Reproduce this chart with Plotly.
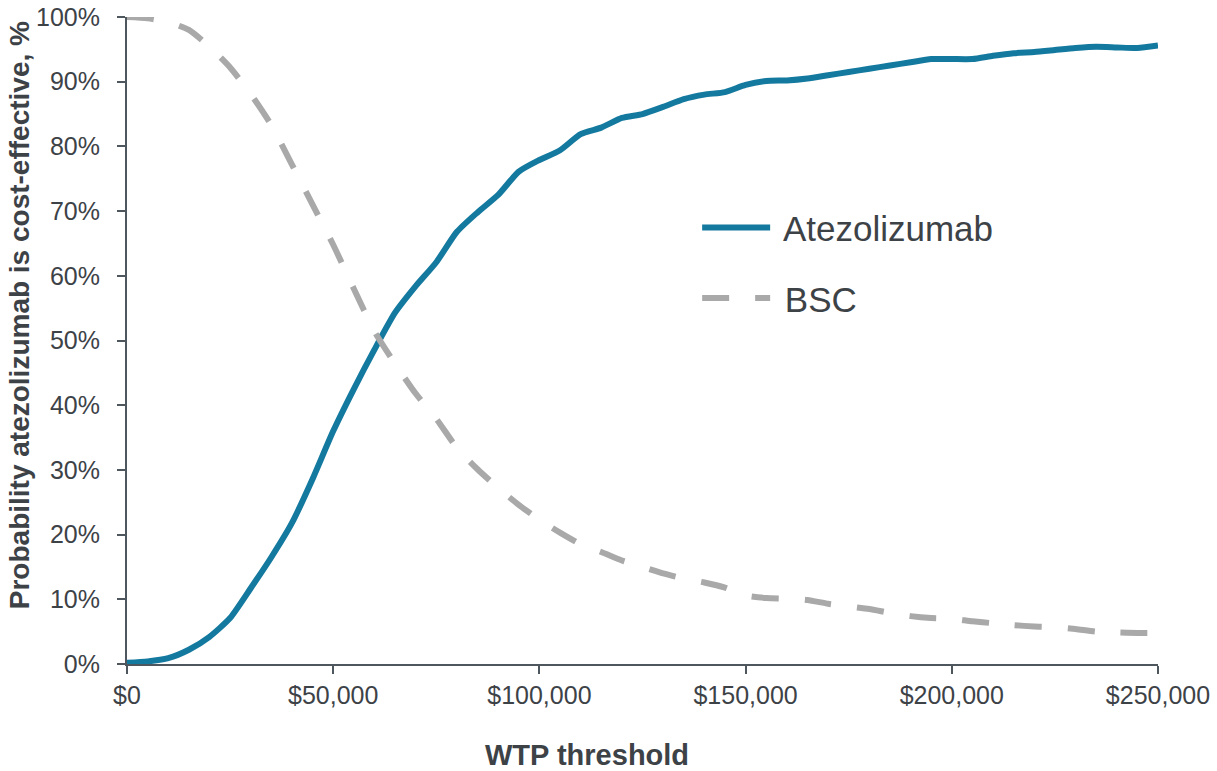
import plotly.graph_objects as go

wtp = [0, 5000, 10000, 15000, 20000, 25000, 30000, 35000, 40000, 45000,
       50000, 55000, 60000, 65000, 70000, 75000, 80000, 85000, 90000, 95000,
       100000, 105000, 110000, 115000, 120000, 125000, 130000, 135000, 140000, 145000,
       150000, 155000, 160000, 165000, 170000, 175000, 180000, 185000, 190000, 195000,
       200000, 205000, 210000, 215000, 220000, 225000, 230000, 235000, 240000, 245000,
       250000]

atezolizumab = [0.2, 0.4, 0.9, 2.2, 4.2, 7.1, 11.7, 16.5, 21.8, 28.6,
                36.0, 42.5, 48.6, 54.3, 58.4, 62.1, 66.8, 69.8, 72.5, 76.1,
                77.9, 79.4, 81.9, 82.9, 84.4, 85.0, 86.1, 87.3, 88.0, 88.4,
                89.5, 90.1, 90.2, 90.5, 91.0, 91.5, 92.0, 92.5, 93.0, 93.5,
                93.5, 93.5, 94.0, 94.4, 94.6, 94.9, 95.2, 95.4, 95.3, 95.2,
                95.6]

bsc = [100.0, 99.8, 99.2, 98.0, 95.4, 92.2, 88.1, 83.3, 77.2, 71.0,
       64.8, 58.0, 51.4, 46.4, 41.8, 37.9, 33.4, 30.1, 27.2, 24.6,
       22.3, 20.3, 18.5, 17.3, 16.0, 15.0, 14.0, 13.2, 12.6, 11.8,
       10.6, 10.2, 10.1, 9.9, 9.3, 8.9, 8.5, 7.9, 7.4, 7.1,
       7.0, 6.6, 6.3, 6.0, 5.8, 5.7, 5.4, 5.0, 4.9, 4.8,
       4.8]

x_ticks = [0, 50000, 100000, 150000, 200000, 250000]
x_tick_labels = ["$0", "$50,000", "$100,000", "$150,000", "$200,000", "$250,000"]
y_ticks = [0, 10, 20, 30, 40, 50, 60, 70, 80, 90, 100]
y_tick_labels = ["0%", "10%", "20%", "30%", "40%", "50%", "60%", "70%", "80%", "90%", "100%"]

FONT = "Arial, 'Liberation Sans', sans-serif"
AXIS_COLOR = "#4f575e"
TEXT_COLOR = "#3d4247"

fig = go.Figure()
fig.add_trace(go.Scatter(
    x=wtp, y=atezolizumab, mode="lines", name=" Atezolizumab",
    line=dict(color="#14799f", width=6, shape="spline", smoothing=0.6),
    legendgroup="a", hoverinfo="skip",
))
fig.add_trace(go.Scatter(
    x=wtp, y=bsc, mode="lines", name=" BSC",
    line=dict(color="#a9a9a9", width=6, dash="27px,26px", shape="spline", smoothing=0.6),
    legendgroup="b", hoverinfo="skip",
))

fig.update_layout(
    width=1217, height=771,
    margin=dict(l=127, r=59, t=17, b=107, autoexpand=False),
    plot_bgcolor="white", paper_bgcolor="white",
    font=dict(family=FONT, color=TEXT_COLOR),
    showlegend=True,
    legend=dict(
        x=0.553, y=0.72, xanchor="left", yanchor="top",
        font=dict(size=35, color=TEXT_COLOR, family=FONT),
        bgcolor="rgba(0,0,0,0)", itemwidth=68,
        traceorder="grouped", tracegroupgap=22,
    ),
    xaxis=dict(
        range=[0, 250000], tickmode="array", tickvals=x_ticks, ticktext=x_tick_labels,
        showgrid=False, zeroline=False, showline=True, linecolor=AXIS_COLOR, linewidth=2,
        ticks="outside", ticklen=8, tickwidth=2, tickcolor=AXIS_COLOR,
        tickfont=dict(size=25, color=TEXT_COLOR, family=FONT),
        ticklabeloverflow="allow",
    ),
    yaxis=dict(
        range=[0, 100], tickmode="array", tickvals=y_ticks, ticktext=y_tick_labels,
        showgrid=False, zeroline=False, showline=True, linecolor=AXIS_COLOR, linewidth=2,
        ticks="outside", ticklen=8, tickwidth=2, tickcolor=AXIS_COLOR,
        tickfont=dict(size=25, color=TEXT_COLOR, family=FONT),
        ticklabelstandoff=12, ticklabeloverflow="allow",
    ),
    annotations=[
        dict(text="<b>Probability atezolizumab is cost-effective, %</b>",
             xref="paper", yref="paper", x=-0.1048, y=0.539,
             textangle=-90, showarrow=False, xanchor="center", yanchor="middle",
             font=dict(size=28, color=TEXT_COLOR, family=FONT)),
        dict(text="<b>WTP threshold</b>",
             xref="paper", yref="paper", x=0.446, y=-0.1406,
             showarrow=False, xanchor="center", yanchor="middle",
             font=dict(size=29, color=TEXT_COLOR, family=FONT)),
    ],
)

fig.write_html(
    "out.html",
    config={"displayModeBar": False},
    post_script="document.body.style.margin='0';document.body.style.overflow='hidden';",
)
